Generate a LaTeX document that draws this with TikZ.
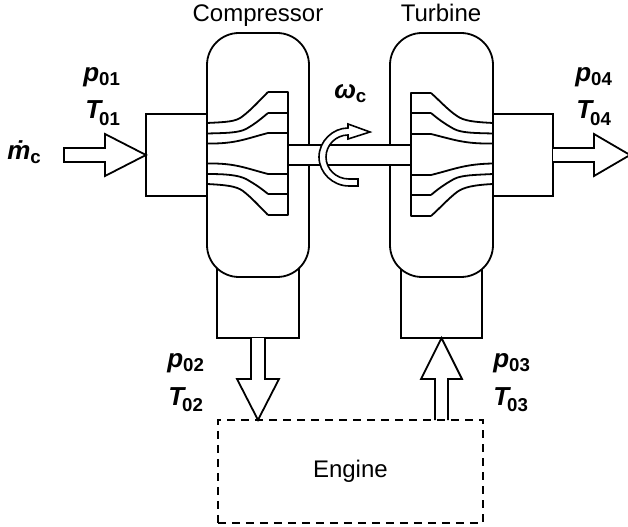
\documentclass[tikz,border=0pt]{standalone}
\usepackage{fontspec}
\setmainfont{Liberation Sans}
\newcommand{\biglab}[2]{{\fontsize{19.5}{21}\selectfont\bfseries\itshape #1}{\fontsize{14}{16}\selectfont\bfseries\raisebox{-3pt}{#2}}}
\newcommand{\tlab}[2]{{\fontsize{19.5}{21}\selectfont\bfseries\itshape #1}\kern-1.5pt{\fontsize{14}{16}\selectfont\bfseries\raisebox{-5pt}{#2}}}
\tikzset{
  x=0.75pt,y=-0.75pt,
  part/.style={draw=black,line width=1.35pt,fill=white,line join=miter},
  pill/.style={part,rounded corners=24pt},
  blade/.style={draw=black,line width=1.35pt,line join=round},
  flow/.style={part},
  plain/.style={inner sep=0pt,anchor=base,font=\fontsize{18}{20}\selectfont},
  qty/.style={inner sep=0pt,anchor=base west},
}
\begin{document}
\begin{tikzpicture}
\useasboundingbox (0,0) rectangle (628,527);
% ducts below the casings
\draw[part] (217,250) rectangle (299,338);
\draw[part] (401,250) rectangle (482,338);
% casings
\draw[pill] (207,33) rectangle (309,277);
\draw[pill] (390,33) rectangle (493,277);
% inlet / outlet boxes
\draw[part] (146,114) rectangle (207,196);
\draw[part] (493,114) rectangle (553,196);
% compressor blades
\draw[blade] (268,92) -- (288,92) -- (288,215) -- (268,215);
\draw[blade] (268,113) -- (288,113);
\draw[blade] (268,133) -- (288,133);
\draw[blade] (268,174) -- (288,174);
\draw[blade] (268,194) -- (288,194);
\draw[blade] (207,123) .. controls (226,122) and (236,122) .. (243,116) .. controls (252,109) and (260,100) .. (268,92);
\draw[blade] (207,133.5) .. controls (226,133) and (238,133) .. (246,129) .. controls (255,124) and (262,118) .. (268,113);
\draw[blade] (207,143.5) .. controls (235,144) and (245,139) .. (268,133);
\draw[blade] (207,163.5) .. controls (235,163) and (245,168) .. (268,174);
\draw[blade] (207,174) .. controls (226,174) and (238,175) .. (246,179) .. controls (255,184) and (262,189) .. (268,194);
\draw[blade] (207,184) .. controls (226,185) and (236,186) .. (243,191) .. controls (252,198) and (260,207) .. (268,215);
% turbine blades
\draw[blade] (431,93) -- (411,93) -- (411,216) -- (431,216);
\draw[blade] (411,113) -- (431,113);
\draw[blade] (411,134) -- (431,134);
\draw[blade] (411,175) -- (431,175);
\draw[blade] (411,195) -- (431,195);
\draw[blade] (431,93) .. controls (440,101) and (448,110) .. (457,116) .. controls (464,121) and (474,122) .. (493,123);
\draw[blade] (431,113) .. controls (438,119) and (445,124) .. (454,129) .. controls (462,133) and (474,133) .. (493,133.5);
\draw[blade] (431,134) .. controls (455,140) and (465,144) .. (493,143.5);
\draw[blade] (431,175) .. controls (455,169) and (465,164) .. (493,163.5);
\draw[blade] (431,195) .. controls (438,189) and (445,184) .. (454,179) .. controls (462,175) and (474,175) .. (493,174);
\draw[blade] (431,216) .. controls (440,208) and (448,199) .. (457,192) .. controls (464,187) and (474,185) .. (493,184);
% shaft
\draw[part] (288,145) rectangle (411,165);
% rotation arrow
\draw[part,line width=1.2pt] (358,186) -- (349,186) .. controls (333,186) and (319,173) .. (319,157) .. controls (319,141) and (333,128) .. (348,128) -- (348,124) -- (370,132) -- (348,139) -- (348,135) .. controls (336,135) and (326,145) .. (326,157) .. controls (326,169) and (336,179) .. (349,179) -- (358,179) -- cycle;
% flow arrows
\draw[flow] (64,148) -- (105,148) -- (105,134) -- (146,155) -- (105,176) -- (105,162) -- (64,162) -- cycle;
\draw[flow] (553,148) -- (594,148) -- (594,134) -- (630,155) -- (594,176) -- (594,162) -- (553,162);
\draw[flow] (251,338) -- (251,379) -- (237,379) -- (258,420) -- (279,379) -- (265,379) -- (265,338);
\draw[flow] (435,420) -- (435,379) -- (421,379) -- (441.5,338) -- (462,379) -- (448,379) -- (448,420);
% engine
\node[draw=black,line width=1.35pt,dash pattern=on 6pt off 4.5pt,minimum width=198.75pt,minimum height=77.25pt,inner sep=0pt,anchor=north west,font=\fontsize{18}{20}\selectfont] (engine) at (217,419) {Engine};
% labels
\node[plain] (comp) at (258,22) {Compressor};
\node[plain] (turb) at (441,22) {Turbine};
\node[qty] (p01) at (83,82) {\biglab{p}{01}};
\node[qty] (T01) at (85,119) {\tlab{T}{01}};
\node[qty] (p04) at (575,82) {\biglab{p}{04}};
\node[qty] (T04) at (576,119) {\tlab{T}{04}};
\node[qty] (p02) at (167,367) {\biglab{p}{02}};
\node[qty] (T02) at (168,405) {\tlab{T}{02}};
\node[qty] (p03) at (493,367) {\biglab{p}{03}};
\node[qty] (T03) at (493,405) {\tlab{T}{03}};
\node[qty] (mc) at (7,160) {\biglab{ṁ}{c}};
\node[qty] (wc) at (334,99) {\biglab{ω}{c}};
\end{tikzpicture}
\end{document}
